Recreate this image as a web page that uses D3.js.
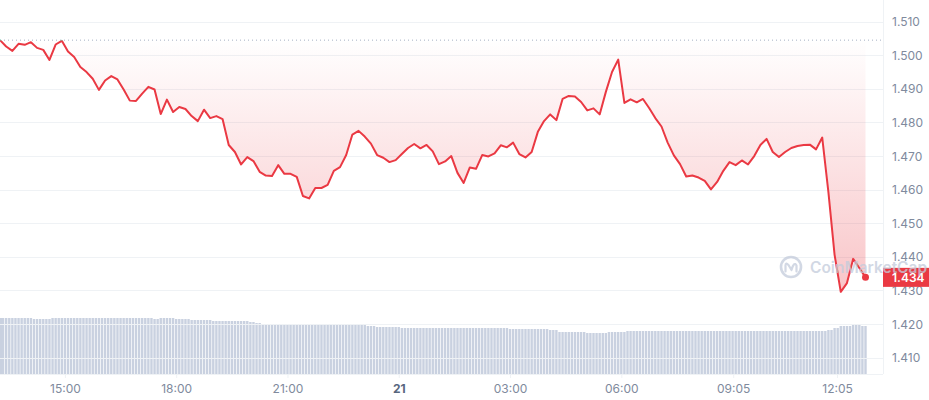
<!DOCTYPE html>
<html lang="en">
<head>
    <meta charset="UTF-8">
    <title>price chart</title>
    <style>
        body{margin:0;background:#fff;}
        svg{display:block;font-family:Inter,"Noto Sans",sans-serif;}
    </style>
</head>
<body>
<div id="chart"></div>
<script src="https://cdn.jsdelivr.net/npm/d3@7/dist/d3.min.js"></script>
<script>
// price, one reading every 10 minutes; time in minutes from 00:00 on the 21st
var startMinute = -645;
var priceStep = 10;
var prices = [
    1.5046,1.5027,1.5014,1.5035,1.5032,1.5040,1.5023,1.5017,1.4987,1.5033,
    1.5044,1.5012,1.4996,1.4966,1.4951,1.4931,1.4898,1.4926,1.4939,1.4929,
    1.4899,1.4866,1.4865,1.4887,1.4907,1.4899,1.4826,1.4869,1.4832,1.4847,
    1.4841,1.4820,1.4805,1.4839,1.4814,1.4820,1.4811,1.4734,1.4713,1.4676,
    1.4698,1.4686,1.4654,1.4643,1.4642,1.4674,1.4648,1.4648,1.4639,1.4582,
    1.4575,1.4606,1.4606,1.4615,1.4657,1.4668,1.4704,1.4765,1.4776,1.4759,
    1.4738,1.4704,1.4696,1.4683,1.4689,1.4707,1.4725,1.4737,1.4724,1.4734,
    1.4715,1.4677,1.4685,1.4701,1.4651,1.4621,1.4667,1.4663,1.4704,1.4700,
    1.4709,1.4733,1.4727,1.4741,1.4707,1.4697,1.4713,1.4773,1.4805,1.4825,
    1.4808,1.4871,1.4880,1.4878,1.4862,1.4837,1.4843,1.4825,1.4892,1.4951,
    1.4988,1.4859,1.4870,1.4861,1.4871,1.4844,1.4814,1.4789,1.4741,1.4703,
    1.4677,1.4640,1.4643,1.4637,1.4627,1.4602,1.4624,1.4657,1.4683,1.4674,
    1.4688,1.4676,1.4701,1.4734,1.4752,1.4713,1.4698,1.4713,1.4725,1.4731,
    1.4734,1.4735,1.4721,1.4756,1.4594,1.4407,1.4297,1.4323,1.4395,1.4368,
    1.4340
];
var openPrice = 1.5046;
var lastPrice = 1.434;

// volume (M), one bar every 5 minutes, written as [value, number of bars]
var volStep = 5;
var volumeRuns = [
    [56,11],[55,6],[56,33],[55,2],[56,5],[55,5],[54,7],[53,12],[52,2],[51,2],
    [50,9],[49,25],[48,3],[47,8],[46,35],[45,13],[44,3],[42,9],[41,7],[42,6],
    [43,65],[44,2],[46,2],[48,4],[49,3],[48,2]
];

var yTicks = [1.41,1.42,1.43,1.44,1.45,1.46,1.47,1.48,1.49,1.50,1.51];
var xTickLabels = ["15:00","18:00","21:00","21","03:00","06:00","09:05","12:05"];
var xTickMinutes = [-540,-360,-180,0,180,360,541,709];

var width = 929, height = 400;
var plotRight = 883, axisY = 374;
var red = '#ea3943', green = '#16c784';

var priceData = prices.map(function(p, i){
    return {t: startMinute + i*priceStep, p: p};
});
var volData = [];
volumeRuns.forEach(function(r){
    for(var k=0;k<r[1];k++){
        volData.push({t: startMinute + volData.length*volStep, v: r[0]});
    }
});

var x = d3.scaleLinear()
    .domain([startMinute, priceData[priceData.length-1].t])
    .range([0, 865.5]);
var y = d3.scaleLinear().domain([1.41, 1.51]).range([358, 22]);
var vy = d3.scaleLinear().domain([0, 100]).range([axisY, axisY-100]);

var svg = d3.select('#chart').append('svg')
    .attr('width', width).attr('height', height);

var defs = svg.append('defs');
var grad = defs.append('linearGradient').attr('id','redFill')
    .attr('gradientUnits','userSpaceOnUse')
    .attr('x1',0).attr('x2',0)
    .attr('y1',y(openPrice)).attr('y2',y(1.428));
grad.append('stop').attr('offset','0').attr('stop-color',red).attr('stop-opacity',0);
grad.append('stop').attr('offset','1').attr('stop-color',red).attr('stop-opacity',0.3);
var gradG = defs.append('linearGradient').attr('id','greenFill')
    .attr('gradientUnits','userSpaceOnUse')
    .attr('x1',0).attr('x2',0)
    .attr('y1',y(openPrice)).attr('y2',y(1.51));
gradG.append('stop').attr('offset','0').attr('stop-color',green).attr('stop-opacity',0);
gradG.append('stop').attr('offset','1').attr('stop-color',green).attr('stop-opacity',0.3);

defs.append('clipPath').attr('id','below').append('rect')
    .attr('x',-5).attr('y',y(openPrice)).attr('width',width).attr('height',height);
defs.append('clipPath').attr('id','above').append('rect')
    .attr('x',-5).attr('y',0).attr('width',width).attr('height',y(openPrice));

// volume bars
svg.append('g').selectAll('rect')
    .data(volData)
    .enter()
    .append('rect')
    .attr('x', function(d){ return Math.max(0, x(d.t)-1.2); })
    .attr('width', 2.4)
    .attr('y', function(d){ return vy(d.v); })
    .attr('height', function(d){ return axisY - vy(d.v); })
    .attr('fill', '#c9d1e0');

// grid
svg.append('g').selectAll('line')
    .data(yTicks)
    .enter()
    .append('line')
    .attr('x1',0).attr('x2',plotRight)
    .attr('y1',function(d){ return y(d); })
    .attr('y2',function(d){ return y(d); })
    .attr('stroke','#eff2f5').attr('stroke-width',1)
    .attr('shape-rendering','crispEdges');

svg.append('line')
    .attr('x1',plotRight).attr('x2',plotRight).attr('y1',0).attr('y2',axisY)
    .attr('stroke','#eff2f5').attr('shape-rendering','crispEdges');

// x axis
var xAxis = d3.axisBottom(x)
    .tickValues(xTickMinutes)
    .tickFormat(function(d, i){ return xTickLabels[i]; })
    .tickSize(4).tickSizeOuter(0).tickPadding(6);
var gx = svg.append('g').attr('transform','translate(0,'+axisY+')').call(xAxis);
gx.select('.domain').attr('d','M0,0.5H'+plotRight).attr('stroke','#eff2f5');
gx.selectAll('.tick line').attr('stroke','#eff2f5');
gx.selectAll('.tick text')
    .attr('fill','#808a9d')
    .style('font-size','12px')
    .style('font-family','Inter,"Noto Sans",sans-serif');
gx.selectAll('.tick text').filter(function(d, i){ return xTickLabels[i] === '21'; })
    .attr('fill','#58667e').style('font-weight','700');

// open price dotted line
svg.append('line')
    .attr('x1',0).attr('x2',plotRight-2)
    .attr('y1',y(openPrice)).attr('y2',y(openPrice))
    .attr('stroke','#a6b0c3').attr('stroke-width',1)
    .attr('stroke-dasharray','1,3');

// area + line
var area = d3.area()
    .x(function(d){ return x(d.t); })
    .y0(y(openPrice))
    .y1(function(d){ return y(d.p); });
var line = d3.line()
    .x(function(d){ return x(d.t); })
    .y(function(d){ return y(d.p); });

svg.append('path').datum(priceData).attr('d',area)
    .attr('fill','url(#redFill)').attr('clip-path','url(#below)');
svg.append('path').datum(priceData).attr('d',area)
    .attr('fill','url(#greenFill)').attr('clip-path','url(#above)');
svg.append('path').datum(priceData).attr('d',line)
    .attr('fill','none').attr('stroke',red).attr('stroke-width',2)
    .attr('stroke-linejoin','round').attr('clip-path','url(#below)');
svg.append('path').datum(priceData).attr('d',line)
    .attr('fill','none').attr('stroke',green).attr('stroke-width',2)
    .attr('stroke-linejoin','round').attr('clip-path','url(#above)');

var last = priceData[priceData.length-1];
svg.append('circle')
    .attr('cx',x(last.t)).attr('cy',y(lastPrice)).attr('r',3.5)
    .attr('fill',red);

// y labels on the right
svg.append('g').selectAll('text')
    .data(yTicks)
    .enter()
    .append('text')
    .attr('x',892)
    .attr('y',function(d){ return y(d); })
    .attr('dy','0.35em')
    .attr('fill','#808a9d')
    .style('font-size','12px')
    .text(function(d){ return d3.format('.3f')(d); });

// current price tag
svg.append('rect')
    .attr('x',plotRight).attr('y',y(lastPrice)-9.5)
    .attr('width',width-plotRight).attr('height',19)
    .attr('fill',red);
svg.append('text')
    .attr('x',892).attr('y',y(lastPrice)).attr('dy','0.35em')
    .attr('fill','#fff').style('font-size','12px').style('font-weight','600')
    .text(d3.format('.3f')(lastPrice));

// watermark
var wm = svg.append('g').attr('transform','translate(791,267)').attr('opacity',0.75);
wm.append('circle').attr('r',10).attr('fill','none')
    .attr('stroke','#c3cbdb').attr('stroke-width',2.6);
wm.append('path')
    .attr('d','M-5.5,4.5V-1.5Q-5.5,-5 -2.5,-2L0.5,3Q3,-6 5.5,-1.5V4.5')
    .attr('fill','none').attr('stroke','#c3cbdb').attr('stroke-width',2.2)
    .attr('stroke-linecap','round').attr('stroke-linejoin','round');
wm.append('text')
    .attr('x',19).attr('y',0).attr('dy','0.36em')
    .attr('fill','#c3cbdb')
    .style('font-size','15.5px').style('font-weight','600')
    .text('CoinMarketCap');
</script>
</body>
</html>
